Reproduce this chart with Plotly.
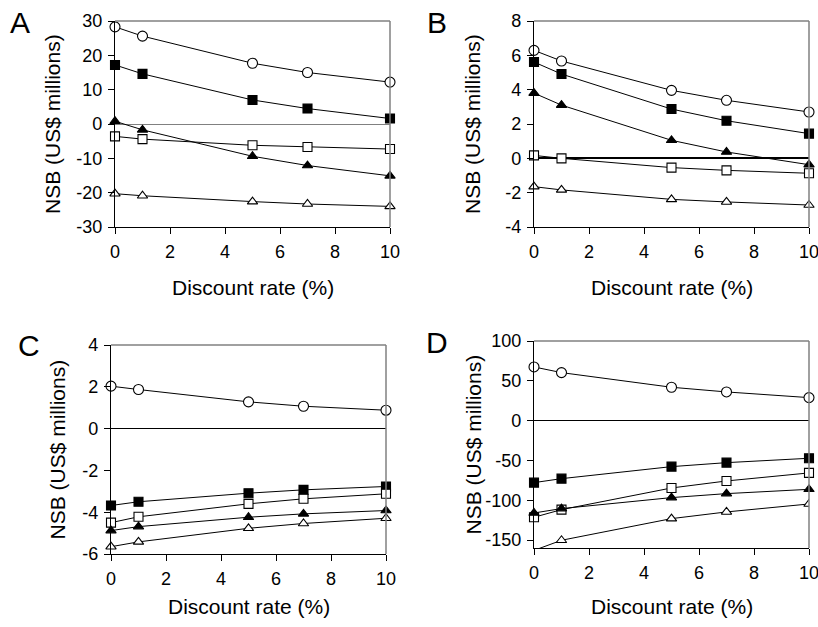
import plotly.graph_objects as go

discount_rate = [0, 1, 5, 7, 10]

# Panel A
a_circle_open = [28.3, 25.6, 17.7, 15.0, 12.2]
a_square_fill = [17.2, 14.6, 7.0, 4.5, 1.6]
a_triangle_fill = [0.8, -1.7, -9.4, -12.1, -15.1]
a_square_open = [-3.6, -4.4, -6.2, -6.7, -7.3]
a_triangle_open = [-20.3, -20.9, -22.6, -23.3, -24.0]

# Panel B
b_circle_open = [6.29, 5.67, 3.96, 3.38, 2.70]
b_square_fill = [5.61, 4.91, 2.87, 2.19, 1.44]
b_triangle_fill = [3.80, 3.10, 1.05, 0.37, -0.37]
b_square_open = [0.17, 0.0, -0.54, -0.70, -0.87]
b_triangle_open = [-1.65, -1.84, -2.39, -2.54, -2.72]

# Panel C
c_circle_open = [2.03, 1.87, 1.28, 1.07, 0.88]
c_square_fill = [-3.68, -3.50, -3.09, -2.93, -2.77]
c_square_open = [-4.50, -4.22, -3.60, -3.36, -3.12]
c_triangle_fill = [-4.88, -4.69, -4.24, -4.08, -3.92]
c_triangle_open = [-5.65, -5.42, -4.77, -4.54, -4.29]

# Panel D
d_circle_open = [67.4, 60.3, 41.9, 36.0, 28.9]
d_square_fill = [-77.9, -72.9, -57.8, -52.8, -47.3]
d_square_open = [-121.4, -111.8, -84.6, -75.8, -65.7]
d_triangle_fill = [-116.0, -110.5, -96.7, -91.7, -86.3]
d_triangle_open = [-163.0, -150.3, -123.1, -114.7, -104.7]

panel_letters = ["A", "B", "C", "D"]
x_title = "Discount rate (%)"
y_title = "NSB (US$ millions)"
x_ticks = [0, 2, 4, 6, 8, 10]
y_ticks = {
    "A": [-30, -20, -10, 0, 10, 20, 30],
    "B": [-4, -2, 0, 2, 4, 6, 8],
    "C": [-6, -4, -2, 0, 2, 4],
    "D": [-150, -100, -50, 0, 50, 100],
}
y_ranges = {"A": [-30, 30], "B": [-4, 8], "C": [-6, 4], "D": [-160, 100]}

panels = {
    "A": [(a_circle_open, "circle", False), (a_square_fill, "square", True), (a_triangle_fill, "triangle-up", True),
          (a_square_open, "square", False), (a_triangle_open, "triangle-up", False)],
    "B": [(b_circle_open, "circle", False), (b_square_fill, "square", True), (b_triangle_fill, "triangle-up", True),
          (b_square_open, "square", False), (b_triangle_open, "triangle-up", False)],
    "C": [(c_circle_open, "circle", False), (c_square_fill, "square", True), (c_square_open, "square", False),
          (c_triangle_fill, "triangle-up", True), (c_triangle_open, "triangle-up", False)],
    "D": [(d_circle_open, "circle", False), (d_square_fill, "square", True), (d_square_open, "square", False),
          (d_triangle_fill, "triangle-up", True), (d_triangle_open, "triangle-up", False)],
}

W, H = 818, 627


def px(xw):
    return xw / W


def py(yw):
    return 1 - yw / H


# plot-area boxes in window pixels (left, right, top, bottom)
boxes = {
    "A": (115, 390, 21, 227),
    "B": (534, 809, 21, 227),
    "C": (111, 386, 345, 554),
    "D": (534, 809, 341, 548),
}
zero_style = {"A": ("#808080", 1.2), "B": ("#000000", 2.2), "C": ("#000000", 1.2), "D": ("#000000", 1.2)}
letter_pos = {"A": (20, 22), "B": (437, 22), "C": (29, 345), "D": (437, 342)}
ytitle_x = {"A": 53, "B": 473, "C": 57, "D": 473}
xtitle_y = {"A": 288, "B": 288, "C": 606, "D": 606}

FONT = "Liberation Sans, Arial, sans-serif"


def fmt(v):
    return str(v).replace("\u2212", "-")


fig = go.Figure()
layout = dict(
    template="none",
    width=W, height=H, margin=dict(l=0, r=0, t=0, b=0, autoexpand=False),
    paper_bgcolor="white", plot_bgcolor="white", showlegend=False,
    font=dict(family=FONT, color="black", size=18),
)
annotations = []
shapes = []

for i, key in enumerate(["A", "B", "C", "D"]):
    n = "" if i == 0 else str(i + 1)
    xa, ya = "x" + n, "y" + n
    l, r, t, b = boxes[key]
    layout["xaxis" + n] = dict(
        domain=[px(l), px(r)], range=[0, 10], anchor=ya, automargin=False,
        tickvals=x_ticks, ticktext=[fmt(v) for v in x_ticks], ticklabeloverflow="allow",
        ticks="outside", ticklen=6, tickwidth=1, tickcolor="black", ticklabelstandoff=2,
        showline=True, linecolor="black", linewidth=1.2, showgrid=False, zeroline=False,
        tickfont=dict(size=18, family=FONT, color="black"),
    )
    layout["yaxis" + n] = dict(
        domain=[py(b), py(t)], range=y_ranges[key], anchor=xa, automargin=False,
        tickvals=y_ticks[key], ticktext=[fmt(v) for v in y_ticks[key]], ticklabeloverflow="allow",
        ticks="outside", ticklen=6, tickwidth=1, tickcolor="black", ticklabelstandoff=2,
        showline=True, linecolor="black", linewidth=1.2, showgrid=False,
        zeroline=True, zerolinecolor=zero_style[key][0], zerolinewidth=zero_style[key][1],
        tickfont=dict(size=18, family=FONT, color="black"),
    )
    for vals, sym, filled in panels[key]:
        clip = key == "D" and sym == "triangle-up" and not filled
        fig.add_trace(go.Scatter(
            x=discount_rate, y=vals, mode="lines+markers", xaxis=xa, yaxis=ya,
            cliponaxis=clip,
            line=dict(color="black", width=1),
            marker=dict(symbol=sym, size=10 if sym == "circle" else 9,
                        color="black" if filled else "white",
                        line=dict(color="black", width=1.1)),
        ))
    # gray top and right frame
    shapes.append(dict(type="line", xref=xa + " domain", yref=ya + " domain", x0=0, x1=1, y0=1, y1=1,
                       line=dict(color="#808080", width=1.5)))
    shapes.append(dict(type="line", xref=xa + " domain", yref=ya + " domain", x0=1, x1=1, y0=0, y1=1,
                       line=dict(color="#808080", width=1.5)))
    lx, ly = letter_pos[key]
    annotations.append(dict(text=key, x=px(lx), y=py(ly), xref="paper", yref="paper",
                            showarrow=False, xanchor="center", yanchor="middle",
                            font=dict(size=30, family=FONT, color="black")))
    annotations.append(dict(text=y_title, x=px(ytitle_x[key]), y=py((t + b) / 2),
                            xref="paper", yref="paper", textangle=-90, showarrow=False,
                            xanchor="center", yanchor="middle",
                            font=dict(size=21, family=FONT, color="black")))
    annotations.append(dict(text=x_title, x=px((l + r) / 2), y=py(xtitle_y[key]),
                            xref="paper", yref="paper", showarrow=False,
                            xanchor="center", yanchor="middle",
                            font=dict(size=21, family=FONT, color="black")))

layout["annotations"] = annotations
layout["shapes"] = shapes
fig.update_layout(**layout)
# remove the default 8px page margin so the 818x627 figure fills the window exactly
fig.write_html("out.html", config={"displayModeBar": False},
               post_script="document.body.style.margin='0';document.body.style.overflow='hidden';")
